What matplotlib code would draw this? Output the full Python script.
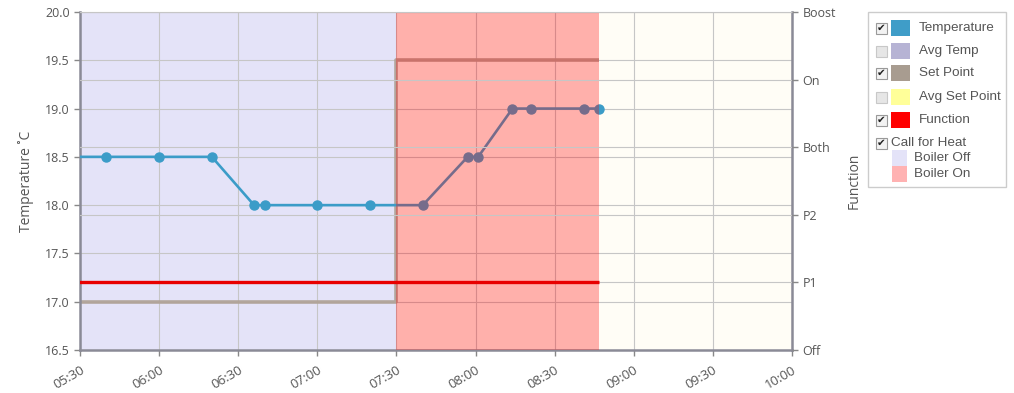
import matplotlib
matplotlib.use("Agg")
import matplotlib.dates as mdates
import matplotlib.pyplot as plt
import pandas as pd
from matplotlib.patches import Rectangle

# 温度データ
temp_times = ["05:20", "05:40", "06:00", "06:20", "06:36", "06:40", "07:00", "07:20",
              "07:40", "07:57", "08:01", "08:14", "08:21", "08:41", "08:47"]
temp_vals = [18.5, 18.5, 18.5, 18.5, 18.0, 18.0, 18.0, 18.0,
             18.0, 18.5, 18.5, 19.0, 19.0, 19.0, 19.0]

# 設定温度 (step)
setpoint_times = ["05:20", "07:30", "08:47"]
setpoint_vals = [17.0, 19.5, 19.5]

# ファンクション (右軸)
function_times = ["05:20", "08:47"]
function_vals = [1, 1]
function_labels = ["Off", "P1", "P2", "Both", "On", "Boost"]

# ボイラー状態の帯
boiler_off = ("05:20", "07:30")
boiler_on = ("07:30", "08:47")

x_ticks = ["05:30", "06:00", "06:30", "07:00", "07:30", "08:00", "08:30", "09:00", "09:30", "10:00"]
y_ticks = [16.5, 17.0, 17.5, 18.0, 18.5, 19.0, 19.5, 20.0]


def t(s):
    return pd.Timestamp("2020-01-01 " + s)


def ts(lst):
    return [t(s) for s in lst]


plt.rcParams["font.family"] = ["Open Sans", "DejaVu Sans"]

W, H = 1014, 393
fig = plt.figure(figsize=(W / 100, H / 100), dpi=100)
fig.patch.set_facecolor("white")
ax = fig.add_axes([80 / W, 1 - 350 / H, (792 - 80) / W, (350 - 12) / H])
ax.set_facecolor("#FFFDF6")

tick_color = "#555555"
grid_color = "#C6C6C6"

ax.axvspan(t(boiler_off[0]), t(boiler_off[1]), color="#E4E3F8", zorder=0, lw=0)
ax.axvspan(t(boiler_on[0]), t(boiler_on[1]), color="#FF0000", alpha=0.3, zorder=4, lw=0)

ax.plot(ts(setpoint_times), setpoint_vals, drawstyle="steps-post", color="#B0A398",
        lw=2.6, alpha=0.95, zorder=2, solid_capstyle="butt")
ax.plot(ts(temp_times), temp_vals, color="#3B9CC8", lw=1.9, marker="o", markersize=6.5,
        zorder=3)

ax.set_xlim(t("05:30"), t("10:00"))
ax.set_ylim(16.5, 20.0)
ax.set_xticks(ts(x_ticks))
ax.xaxis.set_major_formatter(mdates.DateFormatter("%H:%M"))
ax.set_yticks(y_ticks)
ax.set_yticklabels([f"{v:.1f}" for v in y_ticks])
ax.grid(True, color=grid_color, lw=0.8, zorder=1)
ax.set_axisbelow(True)

for lab in ax.get_xticklabels():
    lab.set_rotation(30)
    lab.set_ha("right")
    lab.set_rotation_mode("anchor")

ax.tick_params(axis="both", colors="#888888", labelcolor=tick_color, labelsize=9,
               length=4, width=1)
ax.tick_params(axis="x", pad=6, labelsize=9.5)
ax.set_ylabel("Temperature ˚C", color=tick_color, fontsize=10)
ax.yaxis.set_label_coords((34 - 80) / 712, 0.5)

for name in ["left", "bottom", "right"]:
    ax.spines[name].set_color("#8A8A96")
    ax.spines[name].set_linewidth(1.8)
ax.spines["top"].set_color(grid_color)
ax.spines["top"].set_linewidth(0.8)

# 右軸
ax2 = ax.twinx()
ax2.set_ylim(0, 5)
ax2.set_yticks(range(6))
ax2.set_yticklabels(function_labels)
ax2.grid(True, color=grid_color, lw=0.8)
ax2.plot(ts(function_times), function_vals, color="#E80000", lw=2.4, zorder=5,
         solid_capstyle="butt")
ax2.set_xlim(t("05:30"), t("10:00"))
ax2.tick_params(axis="y", colors="#888888", labelcolor=tick_color, labelsize=9,
                length=4, width=1)
ax2.set_ylabel("Function", color=tick_color, fontsize=10)
ax2.yaxis.set_label_coords((847 - 80) / 712, 0.5)
for s in ax2.spines.values():
    s.set_visible(False)

# 凡例 (手書き)
def fx(x):
    return x / W


def fy(y):
    return 1 - y / H


fig.patches.append(Rectangle((fx(868), fy(187)), fx(1006) - fx(868), (187 - 12) / H,
                             transform=fig.transFigure, fill=False, ec="#CCCCCC", lw=1))

legend_items = [
    ("Temperature", "#3F9DC8", True, 28),
    ("Avg Temp", "#B6B3D4", False, 51),
    ("Set Point", "#A89C90", True, 73),
    ("Avg Set Point", "#FFFF99", False, 97),
    ("Function", "#FF0000", True, 120),
]
font = ["Liberation Sans", "DejaVu Sans"]


def checkbox(x, y, checked):
    fig.patches.append(Rectangle((fx(x), fy(y + 5.5)), 11 / W, 11 / H, transform=fig.transFigure,
                                 fc="#F2F2F2" if checked else "#E6E6E6",
                                 ec="#9A9A9A" if checked else "#C8C8C8", lw=0.8))
    if checked:
        fig.text(fx(x + 5.5), fy(y), "✔", fontsize=7.5, ha="center", va="center",
                 color="#222222", family="DejaVu Sans")


for label, color, checked, y in legend_items:
    checkbox(876, y, checked)
    fig.patches.append(Rectangle((fx(891), fy(y + 8)), 19 / W, 16 / H, transform=fig.transFigure,
                                 fc=color, ec="none"))
    fig.text(fx(919), fy(y), label, fontsize=9.7, color=tick_color, va="center", family=font)

checkbox(876, 143, True)
fig.text(fx(891), fy(143), "Call for Heat", fontsize=9.7, color=tick_color, va="center", family=font)
for label, color, y in [("Boiler Off", "#E4E3F8", 158), ("Boiler On", "#FFB2B2", 174)]:
    fig.patches.append(Rectangle((fx(892), fy(y + 8)), 15 / W, 16 / H, transform=fig.transFigure,
                                 fc=color, ec="none"))
    fig.text(fx(914), fy(y), label, fontsize=9.7, color=tick_color, va="center", family=font)

fig.savefig("out.png", dpi=100, facecolor="white")
